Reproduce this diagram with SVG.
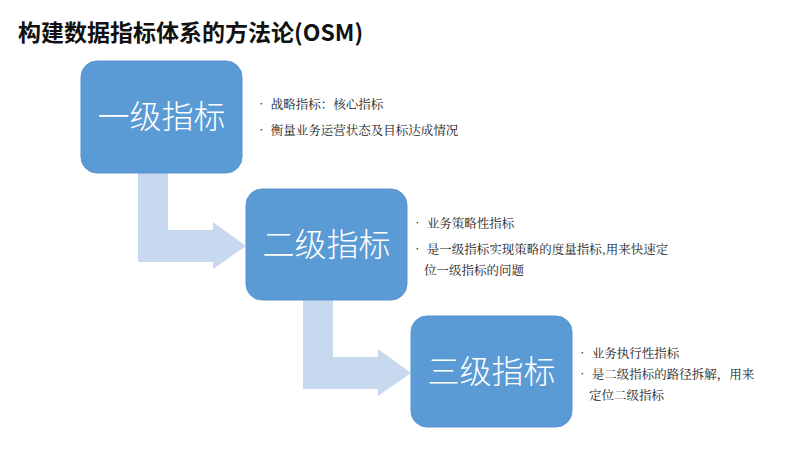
<svg xmlns="http://www.w3.org/2000/svg" width="800" height="455" viewBox="0 0 800 455">
<style>
.box{fill:#5b9bd5;stroke:#5a93cc;stroke-width:1}
.lbl{font-family:"Noto Sans CJK SC",sans-serif;font-size:32px;fill:#fff;text-anchor:middle;font-weight:300}
.t{font-family:"Noto Serif CJK SC","Noto Sans CJK SC",serif;font-size:12.5px;fill:#222}
.arr{fill:#c8d8ee}
</style>
<rect width="800" height="455" fill="#fff"/>
<text x="18" y="41" font-family="Noto Sans CJK SC,sans-serif" font-size="23" font-weight="bold" fill="#111">构建数据指标体系的方法论(OSM)</text>
<g id="connectors">
<path class="arr" d="M138,173 H168 V230 H213 V222 L246,246 L213,269 V262 H138 Z"/>
<path class="arr" d="M303,300 H333 V357 H378 V349 L411,373 L378,396 V389 H303 Z"/>
</g>
<g id="n1"><rect class="box" x="81" y="61" width="161" height="112" rx="16"/><text class="lbl" x="161.5" y="128">一级指标</text></g>
<g id="n2"><rect class="box" x="246" y="189" width="161" height="111" rx="16"/><text class="lbl" x="326.5" y="256">二级指标</text></g>
<g id="n3"><rect class="box" x="411" y="316" width="161" height="111" rx="16"/><text class="lbl" x="491.5" y="383">三级指标</text></g>
<g id="d1" class="t"><text x="255" y="109">•  战略指标：核心指标</text><text x="255" y="135">•  衡量业务运营状态及目标达成情况</text></g>
<g id="d2" class="t"><text x="411" y="228">•  业务策略性指标</text><text x="411" y="254">•  是一级指标实现策略的度量指标,用来快速定</text><text x="424" y="275">位一级指标的问题</text></g>
<g id="d3" class="t"><text x="576" y="358">•  业务执行性指标</text><text x="576" y="379">•  是二级指标的路径拆解，用来</text><text x="589" y="400">定位二级指标</text></g>
</svg>
